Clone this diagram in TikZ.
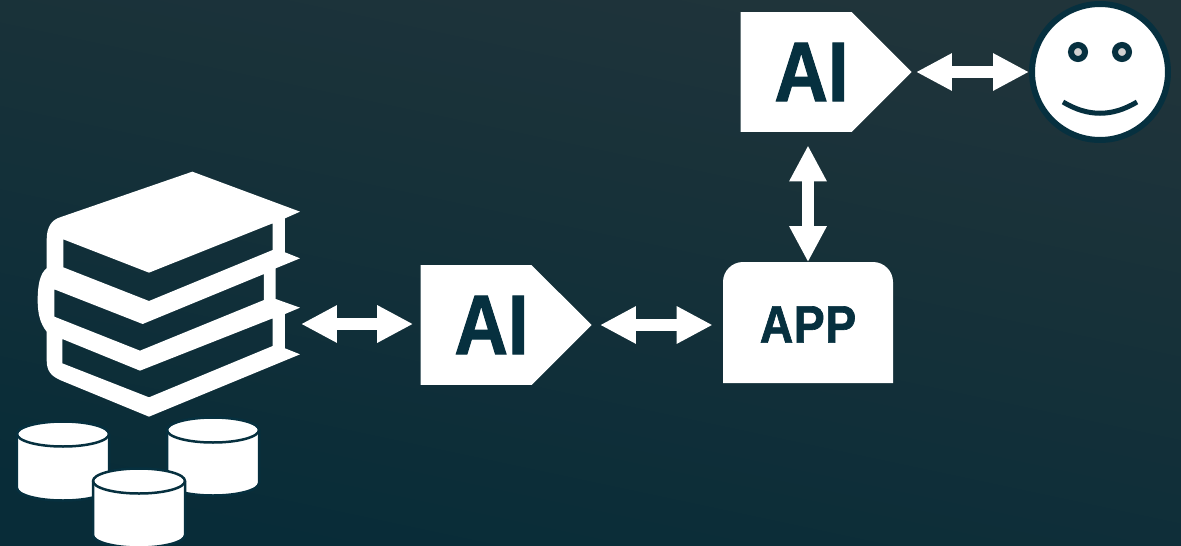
\documentclass[tikz,border=0pt]{standalone}
\usepackage{fontspec}
\setmainfont[FakeStretch=0.88,BoldFeatures={FakeBold=1.2}]{Liberation Sans}
\usetikzlibrary{arrows.meta,positioning,shapes.symbols}

\definecolor{bgtop}{HTML}{20343A}
\definecolor{bgbottom}{HTML}{082C38}
\definecolor{inkdark}{HTML}{06303F}

\begin{document}
\begin{tikzpicture}[x=0.02cm,y=-0.02cm]
  \tikzset{aitag/.style={signal, signal to=east, signal pointer angle=90, fill=white, text=inkdark, inner sep=0pt, minimum width=3.42cm, minimum height=2.4cm, font={\fontsize{48}{48}\bfseries\selectfont}}}
  \tikzset{biarrow/.style={draw=white, line width=0.24cm, {Triangle[length=0.72cm,width=0.7cm]}-{Triangle[length=0.72cm,width=0.7cm]}}}
  \tikzset{apptext/.style={text=inkdark, inner sep=0pt, minimum width=3.4cm, minimum height=2.48cm, font={\fontsize{30}{30}\bfseries\selectfont\addfontfeatures{LetterSpace=1}}}}

  \useasboundingbox (0,0) rectangle (1181,545);
  \shade[top color=bgtop, bottom color=bgbottom, shading angle=-12] (0,0) rectangle (1181,545);

  % books
  \begin{scope}[shift={(0,160)},scale=1/3]
    \fill[white, even odd rule] (577,35) -- (900,155) -- (855,175) -- (855,277) -- (900,295) -- (827,325) -- (827,417) -- (900,443) -- (855,462) -- (855,565) -- (900,583) -- (447,770) -- (180,660)
      .. controls (155,648) and (140,635) .. (140,600) -- (140,515) .. controls (120,490) and (113,460) .. (113,420) .. controls (113,375) and (120,340) .. (140,325) -- (140,240)
      .. controls (140,200) and (155,180) .. (180,172) -- cycle
      (190,238) -- (447,338) -- (818,190) -- (818,270) -- (447,423) -- (190,322) -- cycle
      (163,388) -- (428,492) -- (792,342) -- (792,420) -- (420,572) -- (163,470) -- cycle
      (187,537) -- (420,632) -- (818,475) -- (818,558) -- (447,712) -- (187,610) -- cycle;
  \end{scope}
  \coordinate (books) at (301,324);

  % databases
  \foreach \cx/\cy/\ch in {63/434/54, 213/430/53, 139/481/54} {
    \filldraw[fill=white, draw=inkdark, line width=0.05cm] (\cx-46,\cy) -- (\cx-46,\cy+\ch) arc[start angle=180, end angle=0, x radius=46, y radius=12.5] -- (\cx+46,\cy) arc[start angle=0, end angle=-180, x radius=46, y radius=12.5] -- cycle;
    \draw[draw=inkdark, line width=0.05cm] (\cx-46,\cy) arc[start angle=180, end angle=0, x radius=46, y radius=12.5];
  }

  \node[aitag, anchor=east] (ai1) at (592,325) {\hspace*{0.62cm}AI};
  \node[aitag, anchor=east] (ai2) at (912,72) {\hspace*{0.62cm}AI};
  \fill[white] (723,383) [rounded corners=0.4cm] -- (723,262) -- (893,262) [sharp corners] -- (893,383) -- cycle
    (808,324.5) node[apptext] (app) {APP};

  % face
  \node[circle, fill=white, draw=inkdark, line width=0.12cm, minimum size=2.72cm, inner sep=0pt] (face) at (1100,72) {};
  \filldraw[fill=black!18, draw=inkdark, line width=0.12cm] (1078,52) circle[radius=7];
  \filldraw[fill=black!18, draw=inkdark, line width=0.12cm] (1122,52) circle[radius=7];
  \draw[draw=inkdark, line width=0.1cm] (1063,102) .. controls (1088,117) and (1112,117) .. (1137,102);

  % connectors
  \draw[biarrow, shorten >=0.14cm] (books) -- (ai1.west |- books);
  \draw[biarrow, shorten <=0.16cm, shorten >=0.2cm] (ai1.east) -- (app.west |- ai1.east);
  \draw[biarrow, shorten >=0.26cm] (app.north) -- (app.north |- ai2.south);
  \draw[biarrow, shorten <=0.08cm] (ai2.east) -- (face.west);
\end{tikzpicture}
\end{document}
